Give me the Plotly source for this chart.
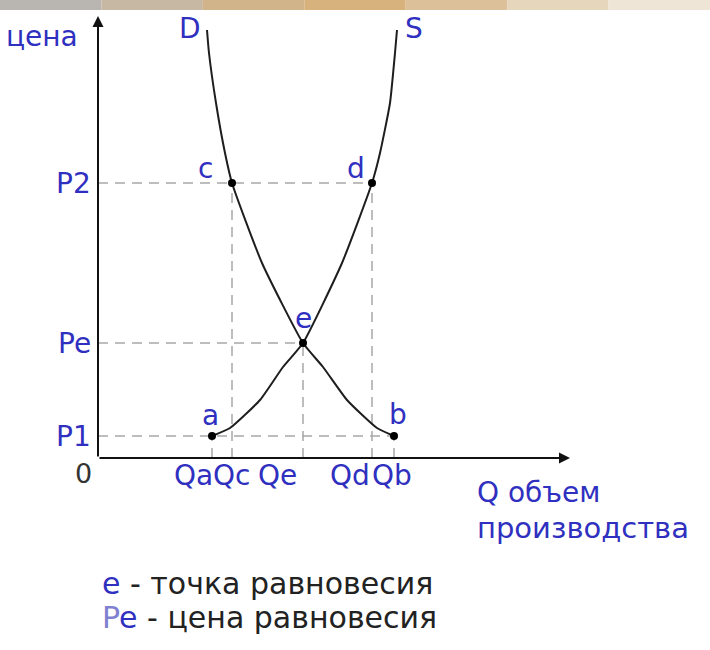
import plotly.graph_objects as go

# demand curve D: quantity / price pairs
d_q = [10.9, 11.1, 11.8, 12.7, 13.4, 16.4, 20.5, 22.5, 24.9, 27.9, 29.6]
d_p = [42.8, 40.5, 35.5, 30.5, 27.5, 19.5, 11.5, 9.1, 5.8, 3.0, 2.2]

# supply curve S
s_q = [11.4, 13.2, 16.2, 18.5, 20.5, 24.4, 27.4, 28.2, 29.2, 29.7, 29.9]
s_p = [2.2, 3.0, 5.8, 9.1, 11.5, 19.5, 27.5, 30.5, 35.5, 40.5, 42.8]

# marked points
pt_names = ["a", "b", "c", "d", "e"]
pt_q = [11.4, 29.6, 13.4, 27.4, 20.5]
pt_p = [2.2, 2.2, 27.5, 27.5, 11.5]

# axis labels
q_ticks = [11.4, 13.4, 20.5, 27.4, 29.6]
q_ticklabels = ["Qa", "Qc", "Qe", "Qd", "Qb"]
p_ticks = [2.2, 11.5, 27.5]
p_ticklabels = ["P1", "Pe", "P2"]

BLUE = "#3030c0"
FONT = "DejaVu Sans"
X_END, Y_END = 47.2, 44.2

fig = go.Figure()

# dashed guides: horizontal to farthest point at each price, vertical to each point
gx, gy = [], []
for p in p_ticks:
    q_max = max(q for q, pp in zip(pt_q, pt_p) if pp == p)
    gx += [0, q_max, None]
    gy += [p, p, None]
for q, p in zip(pt_q, pt_p):
    gx += [q, q, None]
    gy += [0, p, None]
fig.add_trace(go.Scatter(x=gx, y=gy, mode="lines",
                         line=dict(color="#a8a8a8", width=1.5, dash="10px,7px"),
                         hoverinfo="skip"))

fig.add_trace(go.Scatter(x=d_q, y=d_p, mode="lines", line_shape="spline",
                         line=dict(color="#1e1e1e", width=2, smoothing=0.5)))
fig.add_trace(go.Scatter(x=s_q, y=s_p, mode="lines", line_shape="spline",
                         line=dict(color="#1e1e1e", width=2, smoothing=0.5)))
fig.add_trace(go.Scatter(x=pt_q, y=pt_p, mode="markers",
                         marker=dict(color="black", size=8)))

ann = []
# axes with arrow heads
ann.append(dict(x=0, y=Y_END, ax=0, ay=0, axref="x", ayref="y", text="",
                showarrow=True, arrowhead=2, arrowsize=1.1, arrowwidth=2,
                arrowcolor="#111"))
ann.append(dict(x=X_END, y=0, ax=0, ay=0, axref="x", ayref="y", text="",
                showarrow=True, arrowhead=2, arrowsize=1.1, arrowwidth=2,
                arrowcolor="#111"))

# point labels
shifts = {"a": (-2, 21), "b": (4, 22), "c": (-27, 15), "d": (-16, 15), "e": (0, 25)}
for n, q, p in zip(pt_names, pt_q, pt_p):
    dx, dy = shifts[n]
    ann.append(dict(x=q, y=p, text=n, showarrow=False, xshift=dx, yshift=dy,
                    font=dict(color=BLUE, size=28, family=FONT)))

# quantity labels under the axis
q_shift = [-19, -1, -26, -22, -2]
for q, t, dx in zip(q_ticks, q_ticklabels, q_shift):
    ann.append(dict(x=q, y=0, text=t, showarrow=False, xshift=dx, yshift=-17,
                    font=dict(color=BLUE, size=28, family=FONT)))

# price labels left of the axis
for p, t in zip(p_ticks, p_ticklabels):
    ann.append(dict(x=0, y=p, text=t, showarrow=False, xanchor="right", xshift=-5,
                    font=dict(color=BLUE, size=28, family=FONT)))

ann += [
    dict(x=-1.5, y=-1.5, text="0", showarrow=False,
         font=dict(color="#333", size=27, family=FONT)),
    dict(x=-1.8, y=42.2, text="цена", showarrow=False, xanchor="right",
         font=dict(color=BLUE, size=28, family=FONT)),
    dict(x=9.2, y=43.0, text="D", showarrow=False,
         font=dict(color=BLUE, size=28, family=FONT)),
    dict(x=31.6, y=43.0, text="S", showarrow=False,
         font=dict(color=BLUE, size=28, family=FONT)),
    dict(x=37.7, y=-3.4, text="Q объем", showarrow=False, xanchor="left",
         font=dict(color=BLUE, size=28, family=FONT)),
    dict(x=37.7, y=-7.0, text="производства", showarrow=False, xanchor="left",
         font=dict(color=BLUE, size=29, family=FONT)),
    dict(x=0.2, y=-12.5, text=f'<span style="color:{BLUE}">e</span> - точка равновесия',
         showarrow=False, xanchor="left",
         font=dict(color="#222", size=30, family=FONT)),
    dict(x=0.2, y=-15.9,
         text=f'<span style="color:#8080d0">P</span><span style="color:{BLUE}">e</span> - цена равновесия',
         showarrow=False, xanchor="left",
         font=dict(color="#222", size=30, family=FONT)),
]

# faded strip along the top edge
strip = ["#b9b6b2", "#c7b8a4", "#d2b48a", "#d8b27c", "#dcc09a", "#e6d6bc", "#efe5d6"]
shapes = []
for i, c in enumerate(strip):
    shapes.append(dict(type="rect", xref="paper", yref="paper",
                       x0=i / len(strip), x1=(i + 1) / len(strip),
                       y0=1 - 10 / 650, y1=1, fillcolor=c, line_width=0, layer="below"))

fig.update_layout(
    width=710, height=650,
    margin=dict(l=0, r=0, t=0, b=0),
    paper_bgcolor="white", plot_bgcolor="white",
    showlegend=False,
    annotations=ann, shapes=shapes,
    xaxis=dict(range=[-9.8, 61.2], visible=False, fixedrange=True),
    yaxis=dict(range=[-19.2, 45.8], visible=False, fixedrange=True),
)

fig.write_html("out.html", config={"displayModeBar": False},
               post_script="document.body.style.margin='0';")
